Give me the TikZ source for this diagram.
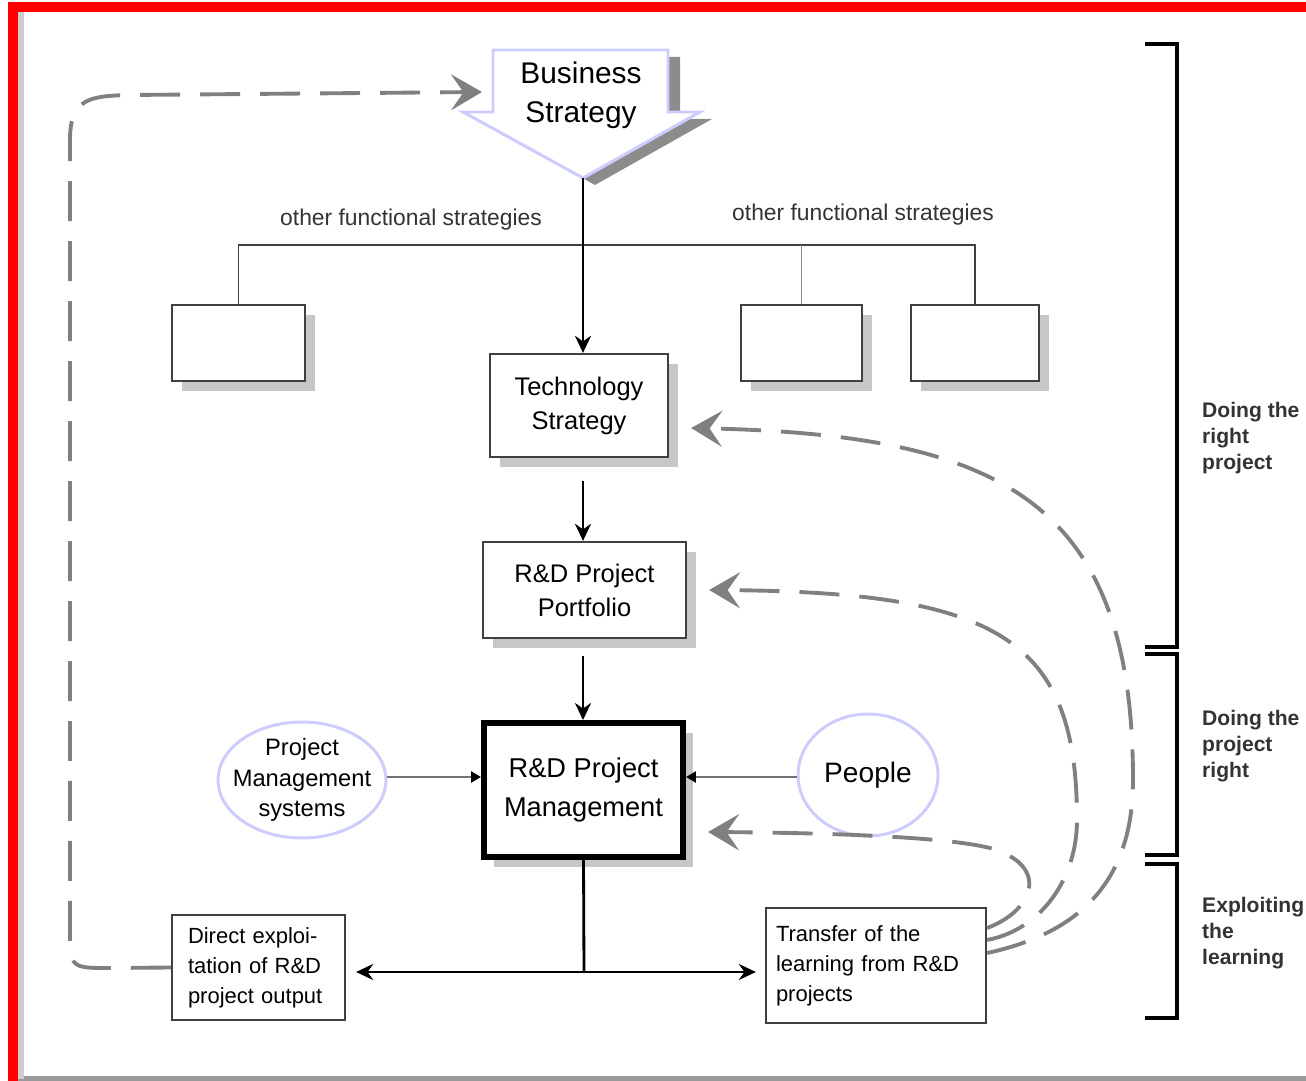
\documentclass[tikz,border=0pt]{standalone}
\usepackage{fontspec}
\setmainfont{Liberation Sans}
\usetikzlibrary{arrows.meta, shapes.geometric, shadows}
\definecolor{lav}{HTML}{CCCCFF}
\tikzset{
    box/.style={
        rectangle,
        draw=black!75,
        line width=1.3pt,
        fill=white,
        align=center,
        inner sep=0pt,
        drop shadow={shadow xshift=0.2cm, shadow yshift=-0.2cm, fill=black!22, opacity=1}
    },
    bigbox/.style={
        box,
        draw=black,
        line width=3.4pt
    },
    plainbox/.style={
        rectangle,
        draw=black!75,
        line width=1.3pt,
        fill=white,
        align=left,
        font=\fontsize{12.5}{17}\selectfont
    },
    oval/.style={
        ellipse,
        draw=lav,
        line width=1.7pt,
        inner sep=0pt,
        align=center
    },
    flow/.style={
        draw=black,
        line width=1.6pt,
        -{Stealth[length=0.34cm, width=0.32cm]}
    },
    tinyflow/.style={
        draw=black!55,
        line width=1.3pt,
        -{Triangle[length=0.2cm, width=0.22cm, color=black]}
    },
    dashflow/.style={
        draw=black!50,
        line width=2.2pt,
        dash pattern=on 0.8cm off 0.4cm,
        -{Stealth[length=0.62cm, width=0.72cm, inset=0.25cm]}
    },
    tree/.style={
        draw=black!75,
        line width=0.9pt
    },
    bracket/.style={
        draw=black,
        line width=1.8pt
    },
    tagtext/.style={
        anchor=west,
        align=left,
        text=black!80,
        font=\bfseries\fontsize{12}{14.8}\selectfont
    }
}

\begin{document}
\begin{tikzpicture}[x=0.02cm, y=-0.02cm]
    \useasboundingbox (0,0) rectangle (1306,1081);

    % Frame
    \draw[black!40, line width=3pt] (16,1079) -- (1306,1079);
    \draw[black!20, line width=4pt] (20,10) -- (20,1079);
    \draw[red, line width=6pt] (13,1081) -- (13,7) -- (1306,7);

    % Business strategy block arrow
    \path[draw=lav, line width=1.7pt, fill=white,
        drop shadow={shadow xshift=0.24cm, shadow yshift=-0.14cm, fill=black!45, opacity=1}]
        (493,50) -- (668,50) -- (668,112) -- (700,112) -- (583,178) coordinate (bstip)
        -- (463,112) -- (493,112) -- cycle;
    \coordinate (bsin) at (482,92);
    \node (business) at (581,95) [align=center, font=\fontsize{17}{22}\selectfont] {Business\\Strategy};

    % Other functional strategies
    \coordinate (treejoin) at (583,245);
    \node (other1) [box, minimum width=2.66cm, minimum height=1.52cm] at (238.5,343) {};
    \node (other2) [box, minimum width=2.42cm, minimum height=1.52cm] at (801.5,343) {};
    \node (other3) [box, minimum width=2.56cm, minimum height=1.52cm] at (975,343) {};
    \node (otherleft) at (411,220) [font=\fontsize{13}{15}\selectfont, text=black!80] {other functional strategies};
    \node (otherright) at (863,215) [font=\fontsize{13}{15}\selectfont, text=black!80] {other functional strategies};

    \draw[tree] (other1.north) -- (other1.north |- treejoin) -- (other3.north |- treejoin) -- (other3.north);
    \draw[tree, draw=black!45] (other2.north) -- (other2.north |- treejoin);

    % Main chain
    \node (tech) [box, minimum width=3.56cm, minimum height=2.06cm, font=\fontsize{14.5}{19.4}\selectfont] at (579,405.5) {Technology\\Strategy};
    \node (portfolio) [box, minimum width=4.06cm, minimum height=1.92cm, font=\fontsize{14.5}{19.4}\selectfont] at (584.5,590) {R\&D Project\\Portfolio};
    \node (pm) [bigbox, minimum width=3.98cm, minimum height=2.68cm, font=\fontsize{15.5}{22}\selectfont] at (583.5,790) {R\&D Project\\Management};

    \draw[flow] (bstip) -- (bstip |- tech.north);
    \draw[flow, shorten <=0.46cm] (bstip |- tech.south) -- (bstip |- portfolio.north);
    \draw[flow, shorten <=0.34cm] (bstip |- portfolio.south) -- (bstip |- pm.north);

    % Inputs
    \node (pms) [oval, minimum width=3.36cm, minimum height=2.32cm] at (302,780) {};
    \node (pmslabel) at (pms) [align=center, font=\fontsize{13.5}{17.4}\selectfont] {Project\\Management\\systems};
    \node (people) [oval, minimum width=2.8cm, minimum height=2.44cm, font=\fontsize{16}{19}\selectfont] at (868,775) {People};

    \draw[tinyflow] ([yshift=0.06cm]pms.east) -- ([yshift=0.06cm]pms.east -| pm.west);
    \draw[tinyflow] ([yshift=-0.04cm]people.west) -- ([yshift=-0.04cm]people.west -| pm.east);

    % Outputs
    \node (direct) [plainbox, text width=2.82cm, inner xsep=0.32cm, minimum height=2.1cm] at (258.5,967.5) {Direct exploi-\\tation of R\&D\\project output};
    \node (transfer) [plainbox, text width=4.0cm, inner xsep=0.2cm, minimum height=2.3cm] at (876,965.5) {Transfer of the\\learning from R\&D\\projects};

    \coordinate (split) at (584,972);
    \draw[draw=black, line width=1.6pt] (pm.south) -- (split);
    \draw[flow, {Stealth[length=0.34cm, width=0.32cm]}-{Stealth[length=0.34cm, width=0.32cm]}]
        ([xshift=0.2cm]direct.east |- split) -- ([xshift=-0.18cm]transfer.west |- split);

    % Feedback loops
    \draw[dashflow] (direct.west) -- (110,968) .. controls (70,968) .. (70,928)
        -- (70,140) .. controls (70,98) and (90,96) .. (130,95) -- (bsin);
    \draw[dashflow] ([yshift=0.25cm]transfer.east) .. controls (1070,935) and (1133,890) .. (1133,780)
        .. controls (1133,500) and (1000,435) .. ([xshift=0.44cm, yshift=-0.45cm]tech.east);
    \draw[dashflow] ([yshift=0.51cm]transfer.east) .. controls (1040,930) and (1077,880) .. (1077,820)
        .. controls (1077,640) and (1000,592) .. ([xshift=0.44cm]portfolio.east);
    \draw[dashflow] ([yshift=0.75cm]transfer.east) .. controls (1035,910) and (1050,865) .. (990,848)
        .. controls (950,838) and (850,833) .. ([xshift=0.44cm, yshift=-0.84cm]pm.east);

    % Brackets
    \draw[bracket] (1145,44) -- (1177,44) -- (1177,647) -- (1145,647);
    \draw[bracket] (1145,654) -- (1177,654) -- (1177,855) -- (1145,855);
    \draw[bracket] (1145,864) -- (1177,864) -- (1177,1018) -- (1145,1018);

    \node (rightproject) [tagtext] at (1196,438) {Doing the\\right\\project};
    \node (projectright) [tagtext] at (1196,746) {Doing the\\project\\right};
    \node (exploiting) [tagtext] at (1196,933) {Exploiting\\the\\learning};

\end{tikzpicture}
\end{document}
